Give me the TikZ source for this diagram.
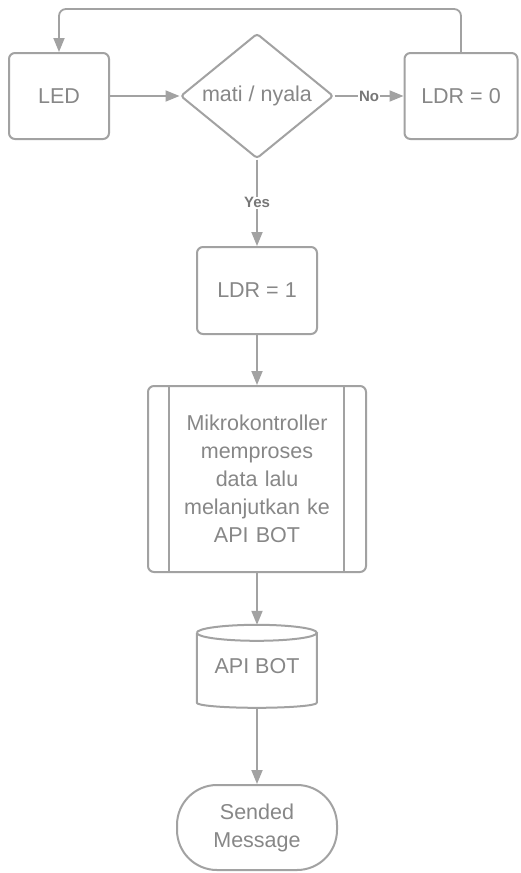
\documentclass[tikz,border=0pt]{standalone}
\usepackage{fontspec}
\setmainfont{Liberation Sans}
\usetikzlibrary{shapes.geometric,arrows.meta,calc}
\definecolor{lineg}{HTML}{A2A2A2}
\definecolor{textg}{HTML}{878787}
\definecolor{labg}{HTML}{777777}
\tikzset{
  box/.style={draw=lineg, line width=2pt, rounded corners=6pt, text=textg, font=\fontsize{21.5}{28}\selectfont, align=center},
  plain/.style={text=textg, font=\fontsize{21.5}{28}\selectfont, align=center},
  conn/.style={draw=lineg, line width=1.8pt, -{Triangle[length=14pt,width=11pt]}},
  lab/.style={fill=white, text=labg, font=\fontsize{15}{17}\selectfont\bfseries, inner sep=1pt}
}
\begin{document}
\begin{tikzpicture}[x=1pt,y=-1pt]
\useasboundingbox[fill=white] (0,0) rectangle (520,873);
\node[box, minimum width=100pt, minimum height=86pt] (led) at (59,96) {LED};
\node[box, shape=diamond, rounded corners=3pt, inner sep=0pt, aspect=1.224, minimum width=153pt, minimum height=125pt] (dec) at (257,96) {mati / nyala};
\node[box, minimum width=113pt, minimum height=86pt] (ldr0) at (461,96) {LDR = 0};
\node[box, minimum width=120pt, minimum height=87pt] (ldr1) at (257,290.5) {LDR = 1};
\node[box, minimum width=218pt, minimum height=186pt, text width=170pt] (sub) at (257,479) {Mikrokontroller\\memproses\\data lalu\\melanjutkan ke\\API BOT};
\draw[lineg, line width=2pt] ([xshift=22pt]sub.north west) -- ([xshift=22pt]sub.south west);
\draw[lineg, line width=2pt] ([xshift=-23pt]sub.north east) -- ([xshift=-23pt]sub.south east);
\node[plain, minimum width=120pt, minimum height=83pt] (api) at (257,666.5) {\raisebox{-4pt}{API BOT}};
\draw[lineg, line width=2pt] (api.north west) ++(0,8) arc[start angle=180, end angle=-180, x radius=60, y radius=8];
\draw[lineg, line width=2pt, line join=round] (api.north west) ++(0,8) -- ++(0,70) arc[start angle=180, end angle=0, x radius=60, y radius=5] -- ++(0,-70);
\node[box, rounded corners=40pt, minimum width=160pt, minimum height=85pt] (term) at (257,827.5) {Sended\\Message};
\coordinate (fb) at (0,9);
\draw[conn] (led.east) -- (dec.west);
\draw[conn] (dec.east) -- node[lab]{No} (ldr0.west);
\draw[conn] (dec.south) -- node[lab]{Yes} (ldr1.north);
\draw[conn, rounded corners=7pt] (ldr0.north) |- (led.north |- fb) -- (led.north);
\draw[conn] (ldr1.south) -- (sub.north);
\draw[conn] (sub.south) -- (api.north);
\draw[conn] (api.south) -- (term.north);
\end{tikzpicture}
\end{document}
